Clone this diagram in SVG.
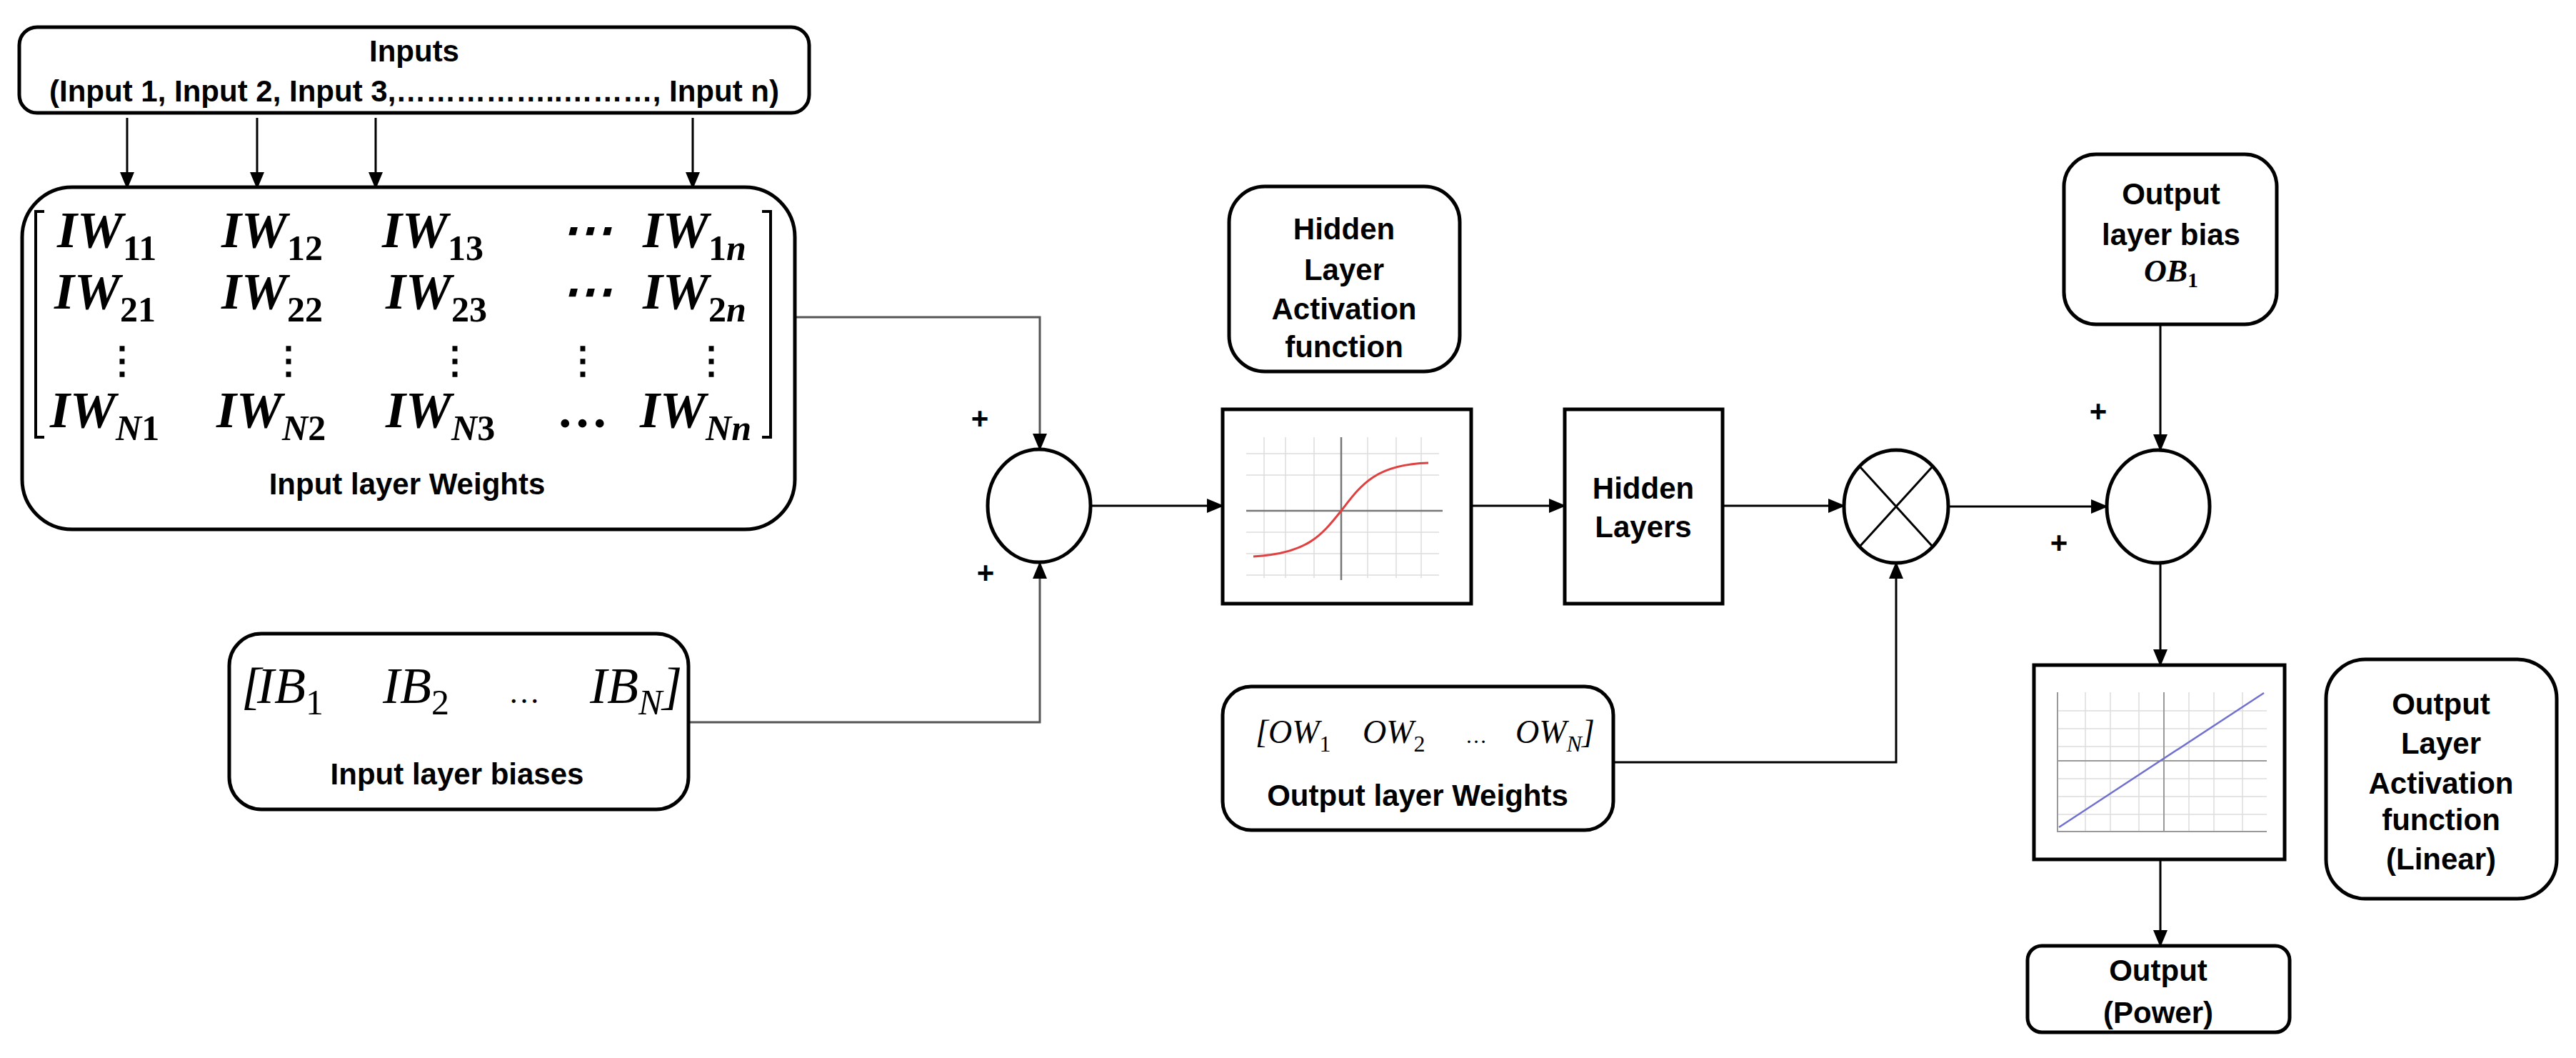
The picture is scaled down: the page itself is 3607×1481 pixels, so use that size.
<svg xmlns="http://www.w3.org/2000/svg" width="3607" height="1481" viewBox="0 0 3607 1481">
<defs>
<marker id="ahb" markerWidth="24" markerHeight="24" refX="22" refY="12" orient="auto" markerUnits="userSpaceOnUse" viewBox="0 0 24 24"><path d="M0,2 L24,12 L0,22 z" fill="#000"/></marker>
<style>
.box{fill:#fff;stroke:#000;stroke-width:5}
.t{font-family:"Liberation Sans",Arial,sans-serif;font-weight:bold;font-size:42px;text-anchor:middle;fill:#000}
.m{font-family:"Liberation Serif","Times New Roman",serif;font-style:italic;font-weight:bold;font-size:72px;fill:#000}
.mi{font-family:"Liberation Serif","Times New Roman",serif;font-style:italic;font-size:72px;fill:#000}
.s{font-size:50px;font-style:normal}
.si{font-size:50px}
.c{fill:none;stroke:#000;stroke-width:3;marker-end:url(#ahb)}
.cg{fill:none;stroke:#555;stroke-width:3;marker-end:url(#ahb)}
.g{stroke:#ddd;stroke-width:1.5}
</style>
</defs>
<rect width="3607" height="1481" fill="#fff"/>
<g id="connectors">
<path class="c" d="M178,165 V263"/>
<path class="c" d="M360,165 V263"/>
<path class="c" d="M526,165 V263"/>
<path class="c" d="M970,165 V263"/>
<path class="cg" d="M1113,444 H1456 V629"/>
<path class="cg" d="M964,1011 H1456 V788"/>
<path class="c" d="M1527,708 H1712"/>
<path class="c" d="M2060,708 H2191"/>
<path class="c" d="M2412,708 H2582"/>
<path class="c" d="M2259,1067 H2655 V788"/>
<path class="c" d="M2728,709 H2950"/>
<path class="c" d="M3025,454 V630"/>
<path class="c" d="M3025,788 V931"/>
<path class="c" d="M3025,1203 V1324"/>
<g class="t"><text x="1372" y="600">+</text><text x="1380" y="816">+</text><text x="2938" y="590">+</text><text x="2883" y="774">+</text></g>
</g>
<g id="inputs">
<rect class="box" x="27" y="38" width="1106" height="120" rx="25"/>
<text class="t" x="580" y="86">Inputs</text>
<text class="t" x="580" y="142">(Input 1, Input 2, Input 3,……………..………, Input n)</text>
</g>
<g id="input-weights">
<rect class="box" x="31" y="262" width="1082" height="479" rx="70"/>
<path d="M62,296 H50 V612 H62 M1067,296 H1079 V612 H1067" fill="none" stroke="#000" stroke-width="4"/>
<text class="m" y="346"><tspan x="80">IW</tspan><tspan class="s" dy="18">11</tspan><tspan x="310" dy="-18">IW</tspan><tspan class="s" dy="18">12</tspan><tspan x="535" dy="-18">IW</tspan><tspan class="s" dy="18">13</tspan><tspan x="785" dy="-18">⋯</tspan><tspan x="900">IW</tspan><tspan class="s" dy="18">1</tspan><tspan class="si">n</tspan></text>
<text class="m" y="432"><tspan x="76">IW</tspan><tspan class="s" dy="18">21</tspan><tspan x="310" dy="-18">IW</tspan><tspan class="s" dy="18">22</tspan><tspan x="540" dy="-18">IW</tspan><tspan class="s" dy="18">23</tspan><tspan x="785" dy="-18">⋯</tspan><tspan x="900">IW</tspan><tspan class="s" dy="18">2</tspan><tspan class="si">n</tspan></text>
<text class="m" y="522" style="font-style:normal;font-size:52px"><tspan x="145">⋮</tspan><tspan x="378">⋮</tspan><tspan x="611">⋮</tspan><tspan x="790">⋮</tspan><tspan x="970">⋮</tspan></text>
<text class="m" y="598"><tspan x="70">IW</tspan><tspan class="si" dy="18">N</tspan><tspan class="s">1</tspan><tspan x="303" dy="-18">IW</tspan><tspan class="si" dy="18">N</tspan><tspan class="s">2</tspan><tspan x="540" dy="-18">IW</tspan><tspan class="si" dy="18">N</tspan><tspan class="s">3</tspan><tspan x="782" dy="-18">…</tspan><tspan x="896">IW</tspan><tspan class="si" dy="18">Nn</tspan></text>
<text class="t" x="570" y="692">Input layer Weights</text>
</g>
<g id="input-biases">
<rect class="box" x="321" y="887" width="643" height="246" rx="45"/>
<text class="mi" y="984"><tspan x="338">[</tspan><tspan x="360">IB</tspan><tspan class="s" dy="16">1</tspan><tspan x="536" dy="-16">IB</tspan><tspan class="s" dy="16">2</tspan><tspan x="712" dy="-16" style="font-style:normal;font-size:44px">…</tspan><tspan x="826">IB</tspan><tspan class="si" dy="16">N</tspan><tspan dy="-16">]</tspan></text>
<text class="t" x="640" y="1098">Input layer biases</text>
</g>
<g id="sum1"><ellipse cx="1455" cy="708" rx="72" ry="79" fill="#fff" stroke="#000" stroke-width="5"/></g>
<g id="hidden-activation-label">
<rect class="box" x="1721" y="261" width="323" height="259" rx="50"/>
<text class="t" x="1882" y="335">Hidden</text><text class="t" x="1882" y="392">Layer</text><text class="t" x="1882" y="447">Activation</text><text class="t" x="1882" y="500">function</text>
</g>
<g id="sigmoid">
<rect class="box" x="1712" y="573" width="348" height="272" rx="0"/>
<g class="g"><path d="M1745,635 H2015 M1745,665 H2015 M1745,745 H2015 M1745,775 H2015 M1745,805 H2015 M1770,612 V809 M1800,612 V809 M1840,612 V809 M1915,612 V809 M1955,612 V809 M1990,612 V809"/></g>
<path d="M1745,715 H2020 M1878,612 V812" stroke="#777" stroke-width="2.5"/>
<path d="M1755,779 C1830,775 1850,750 1878,715 C1905,680 1925,650 2000,648" fill="none" stroke="#e04040" stroke-width="3"/>
</g>
<g id="hidden-layers">
<rect class="box" x="2191" y="573" width="221" height="272"/>
<text class="t" x="2301" y="698">Hidden</text><text class="t" x="2301" y="752">Layers</text>
</g>
<g id="output-weights">
<rect class="box" x="1712" y="961" width="547" height="201" rx="40"/>
<text class="mi" y="1040" style="font-size:46px"><tspan x="1758">[</tspan><tspan>OW</tspan><tspan class="s" dy="12" style="font-size:32px">1</tspan><tspan x="1908" dy="-12">OW</tspan><tspan class="s" dy="12" style="font-size:32px">2</tspan><tspan x="2052" dy="-12" style="font-style:normal;font-size:30px">…</tspan><tspan x="2122">OW</tspan><tspan dy="12" style="font-size:32px">N</tspan><tspan dy="-12">]</tspan></text>
<text class="t" x="1985" y="1128">Output layer Weights</text>
</g>
<g id="multiply">
<ellipse cx="2655" cy="709" rx="73" ry="79" fill="#fff" stroke="#000" stroke-width="5"/>
<path d="M2604,653 L2706,765 M2706,653 L2604,765" stroke="#000" stroke-width="3"/>
</g>
<g id="sum2"><ellipse cx="3022" cy="709" rx="72" ry="79" fill="#fff" stroke="#000" stroke-width="5"/></g>
<g id="output-bias">
<rect class="box" x="2890" y="216" width="298" height="238" rx="45"/>
<text class="t" x="3040" y="286">Output</text><text class="t" x="3040" y="343">layer bias</text>
<text class="m" x="3040" y="394" style="font-size:44px;text-anchor:middle">OB<tspan dy="8" style="font-size:30px;font-style:normal">1</tspan></text>
</g>
<g id="linear">
<rect class="box" x="2848" y="931" width="351" height="272"/>
<g class="g"><path d="M2881,995 H3174 M2881,1020 H3174 M2881,1045 H3174 M2881,1090 H3174 M2881,1115 H3174 M2881,1140 H3174 M2920,969 V1164 M2955,969 V1164 M2995,969 V1164 M3065,969 V1164 M3100,969 V1164 M3140,969 V1164"/></g>
<path d="M2881,969 V1164 H3174 M2881,1065 H3174 M3030,969 V1164" stroke="#999" stroke-width="2" fill="none"/>
<path d="M2883,1158 L3170,970" stroke="#7070d0" stroke-width="2.5"/>
</g>
<g id="output-activation-label">
<rect class="box" x="3257" y="923" width="323" height="335" rx="55"/>
<text class="t" x="3418" y="1000">Output</text><text class="t" x="3418" y="1055">Layer</text><text class="t" x="3418" y="1111">Activation</text><text class="t" x="3418" y="1162">function</text><text class="t" x="3418" y="1217">(Linear)</text>
</g>
<g id="output">
<rect class="box" x="2839" y="1324" width="367" height="121" rx="20"/>
<text class="t" x="3022" y="1373">Output</text><text class="t" x="3022" y="1432">(Power)</text>
</g>
</svg>
